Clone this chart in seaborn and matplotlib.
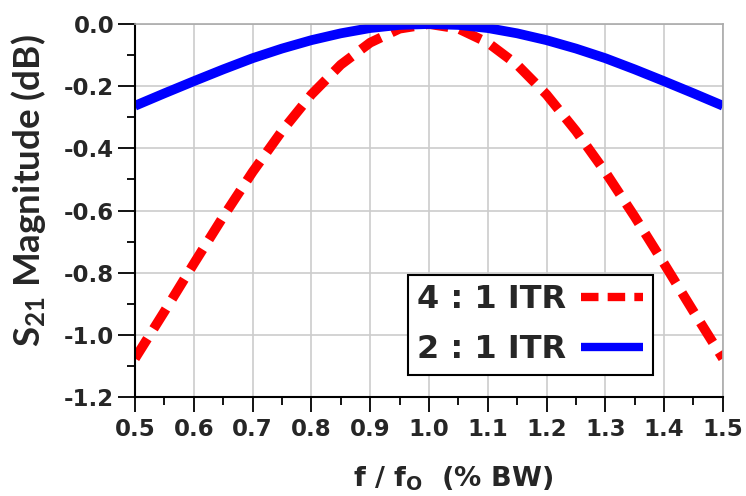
import numpy as np
import pandas as pd
import seaborn as sns
import matplotlib
matplotlib.use("Agg")
import matplotlib.pyplot as plt
from matplotlib.ticker import MultipleLocator

# Normalized frequency f / f0
freq = [0.50, 0.55, 0.60, 0.65, 0.70, 0.75, 0.80, 0.85, 0.90, 0.95, 1.00,
        1.05, 1.10, 1.15, 1.20, 1.25, 1.30, 1.35, 1.40, 1.45, 1.50]

# S21 magnitude (dB) for the 4:1 impedance transformation ratio
s21_4to1 = [-1.076, -0.925, -0.771, -0.620, -0.476, -0.344, -0.227, -0.131, -0.060, -0.015, 0.000,
            -0.015, -0.060, -0.131, -0.227, -0.344, -0.476, -0.620, -0.771, -0.925, -1.076]

# S21 magnitude (dB) for the 2:1 impedance transformation ratio
s21_2to1 = [-0.263, -0.223, -0.184, -0.146, -0.110, -0.079, -0.052, -0.030, -0.013, -0.003, 0.000,
            -0.003, -0.013, -0.030, -0.052, -0.079, -0.110, -0.146, -0.184, -0.223, -0.263]

series_names = ["4 : 1 ITR", "2 : 1 ITR"]

x_ticks = [0.5, 0.6, 0.7, 0.8, 0.9, 1.0, 1.1, 1.2, 1.3, 1.4, 1.5]
y_ticks = [0.0, -0.2, -0.4, -0.6, -0.8, -1.0, -1.2]

df = pd.DataFrame({
    "f": freq * 2,
    "s21": s21_4to1 + s21_2to1,
    "ratio": [series_names[0]] * len(freq) + [series_names[1]] * len(freq),
})

sns.set_theme(style="ticks")
plt.rcParams["font.family"] = ["DejaVu Sans"]
plt.rcParams["font.weight"] = "bold"
plt.rcParams["mathtext.default"] = "regular"

fig = plt.figure(figsize=(7.46, 4.96), dpi=100)
ax = fig.add_axes([0.181, 0.1996, 0.788, 0.752])

colors = {series_names[0]: "#ff0000", series_names[1]: "#0000ff"}

# dashed 4:1 curve first, solid 2:1 curve drawn over it
sns.lineplot(data=df[df["ratio"] == series_names[0]], x="f", y="s21", color=colors[series_names[0]],
             linewidth=7, ax=ax, label=series_names[0])
red_line = ax.lines[-1]
red_line.set_linestyle((0, (2.4, 1.2)))
red_line.set_dash_capstyle("butt")
sns.lineplot(data=df[df["ratio"] == series_names[1]], x="f", y="s21", color=colors[series_names[1]],
             linewidth=7, ax=ax, label=series_names[1])
ax.lines[-1].set_solid_capstyle("butt")

ax.set_xlim(0.5, 1.5)
ax.set_ylim(-1.2, 0.0)
ax.set_xticks(x_ticks)
ax.set_yticks(y_ticks)
ax.set_xticklabels([f"{v:.1f}" for v in x_ticks])
ax.set_yticklabels([f"{v:.1f}" for v in y_ticks])
ax.xaxis.set_minor_locator(MultipleLocator(0.05))
ax.yaxis.set_minor_locator(MultipleLocator(0.1))

ax.grid(True, which="major", color="#cccccc", linewidth=1.2)
ax.set_axisbelow(True)
ax.tick_params(axis="y", which="major", direction="out", length=12, width=1.3, color="black",
               labelsize=16.5, pad=3)
ax.tick_params(axis="x", which="major", direction="out", length=11, width=1.3, color="black",
               labelsize=16.5, pad=4)
ax.tick_params(which="minor", direction="out", length=6, width=1.3, color="black")
for lbl in ax.get_xticklabels() + ax.get_yticklabels():
    lbl.set_fontweight("bold")

for side in ["left", "bottom"]:
    ax.spines[side].set_color("black")
    ax.spines[side].set_linewidth(1.5)
for side in ["top", "right"]:
    ax.spines[side].set_visible(True)
    ax.spines[side].set_color("#aaaaaa")
    ax.spines[side].set_linewidth(1.2)

ax.set_xlabel("f / f$_\\mathregular{O}$  (% BW)", fontsize=19.5, fontweight="bold")
ax.xaxis.set_label_coords(0.541, -0.182)
ax.set_ylabel("S$_\\mathregular{21}$ Magnitude (dB)", fontsize=26.5, fontweight="bold",
              family=["Lato", "DejaVu Sans"])
ax.yaxis.set_label_coords(-0.148, 0.552)

handles, labels = ax.get_legend_handles_labels()
order = [labels.index(series_names[0]), labels.index(series_names[1])]
leg = ax.legend([handles[i] for i in order], [labels[i] for i in order],
                loc="lower left", bbox_to_anchor=(0.464, 0.059), borderaxespad=0,
                markerfirst=False, handlelength=1.95, handletextpad=0.45,
                fontsize=23, frameon=True, fancybox=False, framealpha=1,
                edgecolor="black", borderpad=0.3, labelspacing=0.6)
leg.get_frame().set_linewidth(1.5)
for t in leg.get_texts():
    t.set_fontweight("bold")
leg.legend_handles[0].set_linestyle((0, (2.1, 1.1)))
for h in leg.legend_handles:
    h.set_linewidth(6)

fig.savefig("out.png", dpi=100)
